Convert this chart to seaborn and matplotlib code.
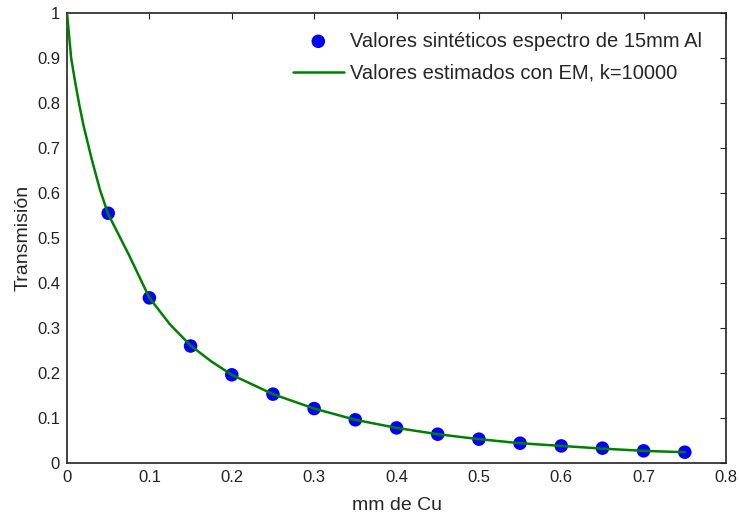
import numpy as np
import pandas as pd
import matplotlib
matplotlib.use("Agg")
import matplotlib.pyplot as plt
import seaborn as sns

# Synthetic transmission values (15 mm Al spectrum) vs copper thickness
espesor_cu = [0.05, 0.10, 0.15, 0.20, 0.25, 0.30, 0.35, 0.40, 0.45, 0.50,
              0.55, 0.60, 0.65, 0.70, 0.75]
transmision_sint = [0.555, 0.367, 0.260, 0.196, 0.153, 0.121, 0.096, 0.078,
                    0.064, 0.053, 0.044, 0.038, 0.033, 0.027, 0.024]

# EM estimated curve, k=10000
espesor_em = [0.0, 0.005, 0.01, 0.015, 0.02, 0.03, 0.04, 0.05, 0.075, 0.10,
              0.125, 0.15, 0.175, 0.20, 0.25, 0.30, 0.35, 0.40, 0.45, 0.50,
              0.55, 0.60, 0.65, 0.70, 0.75]
transmision_em = [1.0, 0.90, 0.845, 0.795, 0.750, 0.675, 0.607, 0.553, 0.463,
                  0.367, 0.308, 0.261, 0.226, 0.196, 0.153, 0.121, 0.096,
                  0.078, 0.064, 0.053, 0.044, 0.038, 0.032, 0.027, 0.024]

x_ticks = [0, 0.1, 0.2, 0.3, 0.4, 0.5, 0.6, 0.7, 0.8]
y_ticks = [0, 0.1, 0.2, 0.3, 0.4, 0.5, 0.6, 0.7, 0.8, 0.9, 1]

sns.set_style("white")
plt.rcParams["font.family"] = ["Liberation Sans", "DejaVu Sans"]

df_sint = pd.DataFrame({"x": espesor_cu, "y": transmision_sint})
df_em = pd.DataFrame({"x": espesor_em, "y": transmision_em})

fig = plt.figure(figsize=(7.39, 5.16), dpi=100)
ax = fig.add_axes([0.0907, 0.1027, 0.8917, 0.8721])

sns.scatterplot(data=df_sint, x="x", y="y", ax=ax, color="#0000ff", s=95,
                edgecolor="none", label="Valores sintéticos espectro de 15mm Al",
                zorder=2)
sns.lineplot(data=df_em, x="x", y="y", ax=ax, color="#008000", linewidth=1.8,
             label="Valores estimados con EM, k=10000", zorder=3)

ax.set_xlim(0, 0.8)
ax.set_ylim(0, 1)
ax.set_xticks(x_ticks)
ax.set_yticks(y_ticks)
ax.set_xticklabels([f"{v:g}" for v in x_ticks])
ax.set_yticklabels([f"{v:g}" for v in y_ticks])
ax.tick_params(direction="in", length=4, width=0.8, top=True, right=True,
               labelsize=12, colors="#222222", pad=5)
for s in ax.spines.values():
    s.set_visible(True)
    s.set_color("#222222")
    s.set_linewidth(1.2)

ax.set_xlabel("mm de Cu", fontsize=14, labelpad=9)
ax.set_ylabel("Transmisión", fontsize=14, labelpad=4)

ax.legend(loc="upper right", bbox_to_anchor=(0.985, 0.99), frameon=False,
          fontsize=14.5, handlelength=2.55, handletextpad=0.3,
          borderaxespad=0.3, labelspacing=0.65, markerscale=1.0)

fig.savefig("out.png", dpi=100)
